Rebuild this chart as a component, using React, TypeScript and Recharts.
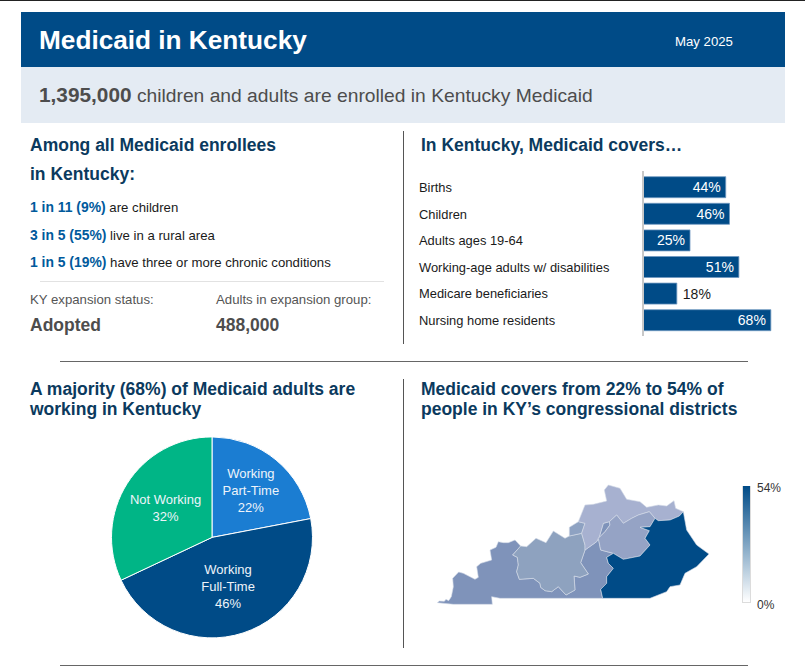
import React from 'react';
import { BarChart, Bar, XAxis, YAxis, LabelList, PieChart, Pie, Cell, ScatterChart, Scatter, Polygon } from 'recharts';

const coverageGroups = ['Births', 'Children', 'Adults ages 19-64', 'Working-age adults w/ disabilities', 'Medicare beneficiaries', 'Nursing home residents'];
const coverageValues = [44, 46, 25, 51, 18, 68];

const workNames = ['Working Part-Time', 'Working Full-Time', 'Not Working'];
const workValues = [22, 46, 32];
const workLines = [['Working', 'Part-Time'], ['Working', 'Full-Time'], ['Not Working']];
const workColors = ['#1b7dd2', '#004b87', '#00b586'];
const workLabelRadius = [61, 52, 55];

// district outlines (map units, y down)
const district1 = [[82, 398], [88, 393], [103, 394], [108, 388], [116, 392], [124, 380], [130, 350], [128, 325], [146, 306], [160, 310], [195, 328], [205, 322], [200, 290], [212, 280], [245, 270], [240, 240], [258, 232], [265, 215], [280, 218], [295, 218], [315, 210], [332, 228], [308, 255], [322, 262], [325, 285], [320, 305], [328, 328], [370, 325], [390, 340], [392, 352], [405, 362], [425, 365], [445, 350], [468, 375], [495, 360], [492, 318], [510, 322], [535, 312], [512, 278], [525, 240], [560, 215], [568, 200], [580, 160], [598, 155], [600, 165], [585, 185], [565, 205], [572, 240], [610, 250], [590, 262], [595, 280], [610, 295], [590, 320], [590, 340], [572, 358], [578, 385], [480, 385], [400, 385], [270, 385], [245, 380], [247, 403], [130, 403]];
const district2 = [[332, 228], [350, 230], [378, 205], [408, 218], [430, 183], [465, 205], [478, 198], [515, 190], [525, 225], [525, 240], [512, 278], [535, 312], [510, 322], [492, 318], [495, 360], [468, 375], [445, 350], [425, 365], [405, 362], [392, 352], [390, 340], [370, 325], [328, 328], [320, 305], [325, 285], [322, 262], [308, 255]];
const district3 = [[478, 198], [478, 172], [505, 155], [525, 160], [515, 190]];
const district4 = [[505, 155], [525, 105], [550, 103], [590, 93], [583, 60], [595, 45], [630, 55], [650, 88], [690, 95], [710, 112], [745, 105], [770, 108], [792, 92], [797, 115], [820, 125], [808, 138], [780, 150], [745, 152], [735, 145], [718, 125], [685, 135], [665, 145], [640, 160], [620, 135], [598, 155], [580, 160], [568, 200], [560, 215], [525, 240], [525, 225], [515, 190], [525, 160]];
const district5 = [[820, 125], [830, 180], [860, 225], [897, 252], [860, 290], [825, 310], [810, 345], [780, 350], [770, 365], [720, 385], [578, 385], [572, 358], [590, 340], [590, 320], [610, 295], [595, 280], [590, 262], [610, 250], [640, 268], [690, 258], [720, 225], [705, 205], [718, 182], [690, 172], [720, 170], [735, 145], [745, 152], [780, 150], [808, 138]];
const district6 = [[565, 205], [585, 185], [600, 165], [598, 155], [620, 135], [640, 160], [665, 145], [685, 135], [718, 125], [735, 145], [720, 170], [690, 172], [718, 182], [705, 205], [720, 225], [690, 258], [640, 268], [610, 250], [572, 240]];
const districts = [
  { outline: district1, color: '#7f93ba' },
  { outline: district2, color: '#8ea2bf' },
  { outline: district3, color: '#8ea2c2' },
  { outline: district4, color: '#a7b1d0' },
  { outline: district6, color: '#95a3c5' },
  { outline: district5, color: '#004b87' },
];

const coverageData = coverageGroups.map((group, i) => ({ group, value: coverageValues[i] }));
const workData = workNames.map((name, i) => ({ name, value: workValues[i] }));

const NAVY = '#0b3a5e';
const BLUE = '#005a9c';
const FONT = '"Liberation Sans", Arial, sans-serif';
const HEAD = 17.5;
const BODY = 13.2;

function T({ x, y, size = BODY, bold, color = '#1a1a1a', children }: any) {
  return (
    <div style={{ position: 'absolute', left: x, top: y - 15, height: 30, lineHeight: '30px', fontSize: size, fontWeight: bold ? 700 : 400, color, whiteSpace: 'nowrap' }}>
      {children}
    </div>
  );
}

function Box({ x, y, w, h, bg }: any) {
  return <div style={{ position: 'absolute', left: x, top: y, width: w, height: h, background: bg }} />;
}

function Lead({ children }: any) {
  return <b style={{ color: BLUE, fontSize: 13.9 }}>{children}</b>;
}

function CategoryTick({ y, payload }: any) {
  return <text x={9} y={y} dy={5} fontSize={12.9} fill="#1a1a1a">{payload.value}</text>;
}

function BarValue({ x, y, width, height, value }: any) {
  const inside = value >= 20;
  return (
    <text x={inside ? x + width - 5 : x + width + 6} y={y + height / 2} dy={5} fontSize={14} textAnchor={inside ? 'end' : 'start'} fill={inside ? '#fff' : '#1a1a1a'}>
      {value}%
    </text>
  );
}

function WorkLabel({ cx, cy, midAngle, index, value }: any) {
  const r = workLabelRadius[index];
  const rad = (midAngle * Math.PI) / 180;
  const x = cx + r * Math.cos(rad);
  const y = cy - r * Math.sin(rad);
  const lines = [...workLines[index], `${value}%`];
  const top = y - ((lines.length - 1) * 17) / 2;
  return (
    <text textAnchor="middle" fontSize={13} fill="#eef4fa">
      {lines.map((l, i) => <tspan key={l} x={x} y={top + i * 17 + 4.5}>{l}</tspan>)}
    </text>
  );
}

const districtShape = (color: string) => (props: any) => (
  <Polygon points={props.points} fill={color} stroke="#d5dbe8" strokeWidth={0.6} />
);

export default function App() {
  return (
    <div style={{ position: 'absolute', left: 0, top: 0, width: 805, height: 666, overflow: 'hidden', fontFamily: FONT, background: '#fff' }}>
      <Box x={0} y={0} w={805} h={1} bg="#222" />
      <Box x={21} y={12} w={764} h={55} bg="#004b87" />
      <Box x={21} y={67} w={764} h={56} bg="#e4ebf3" />
      <T x={39} y={40} size={26.2} bold color="#fff">Medicaid in Kentucky</T>
      <T x={675} y={41.5} size={13.2} color="#fff">May 2025</T>
      <T x={39} y={95} size={19.25} color="#4d4d4d"><b style={{ fontSize: 20.8 }}>1,395,000</b> children and adults are enrolled in Kentucky Medicaid</T>

      <T x={30} y={145} size={HEAD} bold color={NAVY}>Among all Medicaid enrollees</T>
      <T x={30} y={174} size={HEAD} bold color={NAVY}>in Kentucky:</T>
      <T x={30} y={207}><Lead>1 in 11 (9%)</Lead> are children</T>
      <T x={30} y={235}><Lead>3 in 5 (55%)</Lead> live in a rural area</T>
      <T x={30} y={262}><Lead>1 in 5 (19%)</Lead> have three or more chronic conditions</T>
      <Box x={40} y={281} w={344} h={1} bg="#e2e2e2" />
      <T x={30} y={299.5} color="#555">KY expansion status:</T>
      <T x={216} y={299.5} color="#555">Adults in expansion group:</T>
      <T x={30} y={325} size={17.5} bold color="#4d4d4d">Adopted</T>
      <T x={216} y={325} size={17.5} bold color="#4d4d4d">488,000</T>

      <Box x={403} y={131} w={1} h={213} bg="#555" />
      <Box x={403} y={379} w={1} h={269} bg="#555" />
      <Box x={60} y={361} w={688} h={1} bg="#666" />
      <Box x={60} y={665} w={688} h={1} bg="#666" />

      <T x={421} y={145} size={HEAD} bold color={NAVY}>In Kentucky, Medicaid covers…</T>
      <T x={30} y={389} size={HEAD} bold color={NAVY}>A majority (68%) of Medicaid adults are</T>
      <T x={30} y={409} size={HEAD} bold color={NAVY}>working in Kentucky</T>
      <T x={421} y={389} size={HEAD} bold color={NAVY}>Medicaid covers from 22% to 54% of</T>
      <T x={421} y={409} size={HEAD} bold color={NAVY}>people in KY’s congressional districts</T>

      <div style={{ position: 'absolute', left: 410, top: 165 }}>
        <BarChart width={395} height={180} layout="vertical" data={coverageData} margin={{ top: 6, right: 11.6, bottom: 9, left: 0 }} barCategoryGap={3}>
          <XAxis type="number" domain={[0, 80]} hide />
          <YAxis type="category" dataKey="group" width={233} interval={0} tick={<CategoryTick />} tickLine={false} axisLine={{ stroke: '#c8c8c8', strokeWidth: 2 }} padding={{ top: 2.7, bottom: 2.7 }} />
          <Bar dataKey="value" fill="#004b87" stroke="#6f98c0" strokeWidth={0.8} isAnimationActive={false}>
            <LabelList dataKey="value" content={<BarValue />} />
          </Bar>
        </BarChart>
      </div>

      <div style={{ position: 'absolute', left: 90, top: 425 }}>
        <PieChart width={240} height={225} margin={{ top: 0, right: 0, bottom: 0, left: 0 }}>
          <Pie data={workData} dataKey="value" nameKey="name" cx={122} cy={112.4} outerRadius={100.5} startAngle={90} endAngle={-270} stroke="#fff" strokeWidth={1} label={<WorkLabel />} labelLine={false} isAnimationActive={false}>
            {workColors.map((c) => <Cell key={c} fill={c} />)}
          </Pie>
        </PieChart>
      </div>

      <div style={{ position: 'absolute', left: 410, top: 470 }}>
        <ScatterChart width={395} height={170} margin={{ top: 0, right: 0, bottom: 0, left: 0 }}>
          <XAxis type="number" dataKey="x" domain={[0, 1185]} hide />
          <YAxis type="number" dataKey="y" domain={[0, 510]} reversed hide />
          {districts.map((d, i) => (
            <Scatter key={i} data={d.outline.map(([x, y]) => ({ x, y }))} fill={d.color} line={districtShape(d.color)} shape={() => <g />} isAnimationActive={false} />
          ))}
        </ScatterChart>
      </div>

      <div style={{ position: 'absolute', left: 742, top: 486, width: 9, height: 117, boxSizing: 'border-box', border: '1px solid #dcdcdc', borderTop: 'none', background: 'linear-gradient(#004b87, #ffffff)' }} />
      <T x={757} y={487.5} size={12} color="#333">54%</T>
      <T x={757} y={604.5} size={12} color="#333">0%</T>
    </div>
  );
}
